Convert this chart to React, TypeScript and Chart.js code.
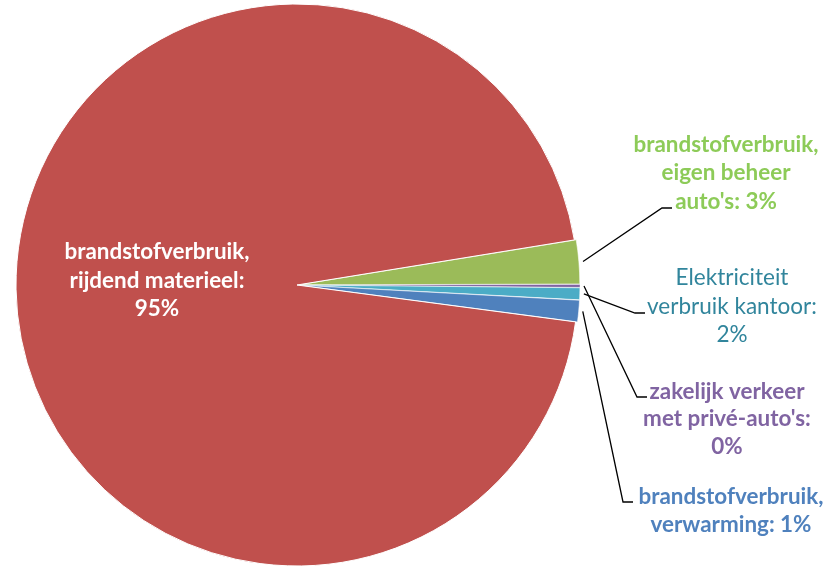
import React, { useEffect, useRef } from "react";
import { Chart, registerables } from "chart.js";

Chart.register(...registerables);

// ---- data ----
const categories = [
  "brandstofverbruik, eigen beheer auto's",
  "zakelijk verkeer met privé-auto's",
  "Elektriciteit verbruik kantoor",
  "brandstofverbruik, verwarming",
  "brandstofverbruik, rijdend materieel",
];
const values = [2.52, 0.19, 0.7, 1.25, 95.34];
const shownPercent = ["3%", "0%", "2%", "1%", "95%"];

// ---- styles ----
const sliceColors = ["#9BBB59", "#8064A2", "#4BACC6", "#4F81BD", "#C0504D"];
const labelColors = ["#8DCB58", "#8064A2", "#31859C", "#4F81BD", "#FFFFFF"];
const sliceOffsets = [4, 4, 4, 4, 0];
const sliceBorders = [0.6, 0.4, 0.6, 0.6, 1];

// label layout: text lines, centre x, line centre ys, weight, leader elbow
const labelLayout = [
  { lines: ["brandstofverbruik,", "eigen beheer", "auto's: " + shownPercent[0]], x: 726, ys: [145, 173, 202], bold: true, elbow: [662, 208], end: [672, 208] },
  { lines: ["zakelijk verkeer", "met privé-auto's:", shownPercent[1]], x: 727, ys: [392, 419, 447], bold: true, elbow: [637, 397], end: [647, 397] },
  { lines: ["Elektriciteit", "verbruik kantoor:", shownPercent[2]], x: 732, ys: [278, 307, 335], bold: false, elbow: [635, 313], end: [645, 313] },
  { lines: ["brandstofverbruik,", "verwarming: " + shownPercent[3]], x: 731, ys: [497, 525], bold: true, elbow: [623, 502], end: [633, 502] },
  { lines: ["brandstofverbruik,", "rijdend materieel:", shownPercent[4]], x: 157, ys: [252, 281, 309], bold: true, elbow: null, end: null },
];

const FAMILY = '"Lato", "Open Sans", sans-serif';

const labelPlugin = {
  id: "pieLabels",
  afterDatasetsDraw(chart: any) {
    const ctx = chart.ctx as CanvasRenderingContext2D;
    const meta = chart.getDatasetMeta(0);
    ctx.save();
    ctx.font = `bold 100px ${FAMILY}`;
    const boldSize = (100 * 185) / ctx.measureText("brandstofverbruik,").width;
    ctx.font = `100px ${FAMILY}`;
    const regSize = (100 * 170) / ctx.measureText("verbruik kantoor:").width;

    // leader lines
    ctx.strokeStyle = "#000";
    ctx.lineWidth = 1.3;
    labelLayout.forEach((lay, i) => {
      if (!lay.elbow || !lay.end) return;
      const arc = meta.data[i];
      const p = arc.getProps(["x", "y", "startAngle", "endAngle", "outerRadius"], true);
      const mid = (p.startAngle + p.endAngle) / 2;
      const r = p.outerRadius + (sliceOffsets[i] || 0) + 2;
      const sx = p.x + Math.cos(mid) * r;
      const sy = p.y + Math.sin(mid) * r;
      ctx.beginPath();
      ctx.moveTo(sx, sy);
      ctx.lineTo(lay.elbow[0], lay.elbow[1]);
      ctx.lineTo(lay.end[0], lay.end[1]);
      ctx.stroke();
    });

    // texts
    ctx.textAlign = "center";
    ctx.textBaseline = "middle";
    labelLayout.forEach((lay, i) => {
      ctx.fillStyle = labelColors[i];
      ctx.font = lay.bold ? `bold ${boldSize}px ${FAMILY}` : `${regSize}px ${FAMILY}`;
      lay.lines.forEach((line, j) => {
        ctx.fillText(line, lay.x, lay.ys[j]);
      });
    });
    ctx.restore();
  },
};

export default function App() {
  const canvasRef = useRef<HTMLCanvasElement | null>(null);

  useEffect(() => {
    if (!canvasRef.current) return;
    const chart = new Chart(canvasRef.current, {
      type: "pie",
      data: {
        labels: categories,
        datasets: [
          {
            data: values,
            backgroundColor: sliceColors,
            borderColor: "#ffffff",
            borderWidth: sliceBorders,
            offset: sliceOffsets,
            hoverOffset: 0,
          },
        ],
      },
      options: {
        animation: false,
        responsive: false,
        devicePixelRatio: 1,
        rotation: 80.77,
        radius: 281,
        layout: { padding: { left: 0, right: 234, top: 2, bottom: 0 } },
        plugins: {
          legend: { display: false },
          tooltip: { enabled: false },
        },
      } as any,
      plugins: [labelPlugin],
    });
    return () => chart.destroy();
  }, []);

  return (
    <div style={{ position: "absolute", left: 0, top: 0, width: 828, height: 568, background: "#fff" }}>
      <canvas ref={canvasRef} width={828} height={568} style={{ width: 828, height: 568, display: "block" }} />
    </div>
  );
}
